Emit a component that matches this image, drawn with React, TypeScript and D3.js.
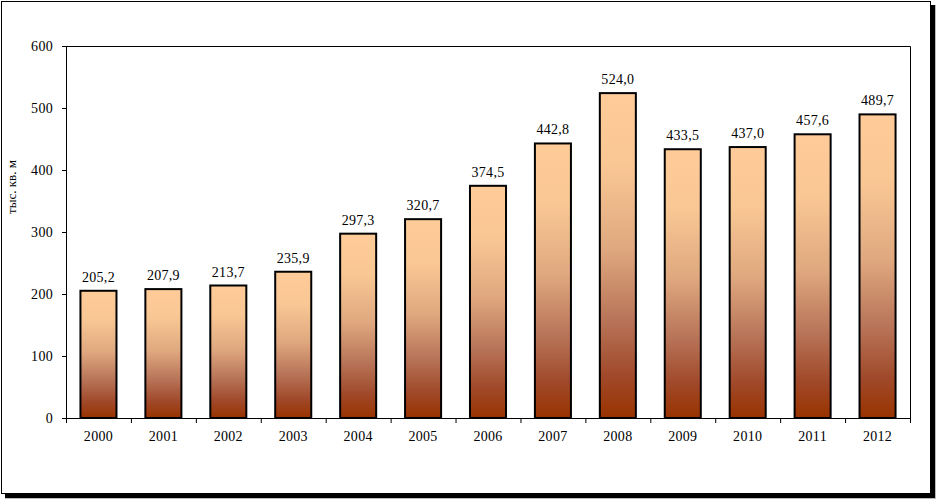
import * as d3 from "d3";
import React from "react";

const years = ["2000", "2001", "2002", "2003", "2004", "2005", "2006", "2007", "2008", "2009", "2010", "2011", "2012"];
const values = [205.2, 207.9, 213.7, 235.9, 297.3, 320.7, 374.5, 442.8, 524.0, 433.5, 437.0, 457.6, 489.7];
const yTicks = [0, 100, 200, 300, 400, 500, 600];
const yLabel = "тыс. кв. м";

const W = 936;
const H = 499;
const margin = { top: 46, right: 26, bottom: 81, left: 66 };
const font = "Liberation Serif, Times New Roman, serif";

const fmt = (v: number) => v.toFixed(1).replace(".", ",");

export default function App() {
  const x = d3
    .scaleBand()
    .domain(years)
    .range([margin.left, W - margin.right])
    .paddingInner(0.445)
    .paddingOuter(0.2225);
  const y = d3
    .scaleLinear()
    .domain([0, 600])
    .range([H - margin.bottom, margin.top]);

  const x0 = margin.left;
  const x1 = W - margin.right;
  const y0 = y(0);
  const yTop = y(600);
  const step = x.step();

  return (
    <svg width={W} height={H} style={{ position: "absolute", left: 0, top: 0 }}>
      <defs>
        <linearGradient id="barFill" x1="0" y1="0" x2="0" y2="1">
          <stop offset="0" stopColor="#ffcc99" />
          <stop offset="0.22" stopColor="#f9c794" />
          <stop offset="0.48" stopColor="#dfa87f" />
          <stop offset="0.7" stopColor="#b87458" />
          <stop offset="0.87" stopColor="#a0492a" />
          <stop offset="1" stopColor="#993300" />
        </linearGradient>
      </defs>

      {/* frame with shadow */}
      <rect x={5} y={5} width={931} height={494} fill="#bbb" />
      <rect x={5} y={5} width={930} height={493} fill="#000" />
      <rect x={1.5} y={1.5} width={929} height={492} fill="#fff" stroke="#000" strokeWidth={1} />

      {/* plot area top/right border */}
      <path d={`M${x0},${yTop + 0.5}H${x1 + 0.5}V${y0}`} fill="none" stroke="#000" strokeWidth={1} />

      {/* bars */}
      {years.map((yr, i) => (
        <g key={yr}>
          <rect
            x={x(yr)!}
            y={y(values[i])}
            width={x.bandwidth()}
            height={y0 - y(values[i])}
            fill="url(#barFill)"
            stroke="#000"
            strokeWidth={2}
          />
          <text
            x={x(yr)! + x.bandwidth() / 2}
            y={y(values[i]) - 9}
            textAnchor="middle"
            fontFamily={font}
            fontSize={14}
            letterSpacing={0.3}
            fill="#000"
          >
            {fmt(values[i])}
          </text>
          <text
            x={x(yr)! + x.bandwidth() / 2}
            y={y0 + 23}
            textAnchor="middle"
            fontFamily={font}
            fontSize={14}
            letterSpacing={0.3}
            fill="#000"
          >
            {yr}
          </text>
        </g>
      ))}

      {/* y axis */}
      <line x1={x0 + 0.5} x2={x0 + 0.5} y1={yTop} y2={y0} stroke="#000" />
      {yTicks.map((t) => (
        <g key={t}>
          <line x1={x0 - 4} x2={x0} y1={y(t) + 0.5} y2={y(t) + 0.5} stroke="#000" />
          <text
            x={x0 - 13}
            y={y(t) + 5}
            textAnchor="end"
            fontFamily={font}
            fontSize={14}
            letterSpacing={0.3}
            fill="#000"
          >
            {t}
          </text>
        </g>
      ))}

      {/* x axis */}
      <line x1={x0} x2={x1 + 0.5} y1={y0 + 0.5} y2={y0 + 0.5} stroke="#000" />
      {d3.range(years.length + 1).map((i) => (
        <line
          key={i}
          x1={x0 + i * step + 0.5}
          x2={x0 + i * step + 0.5}
          y1={y0}
          y2={y0 + 5}
          stroke="#000"
        />
      ))}

      <text
        transform={`translate(16,${(yTop + y0) / 2 - 45}) rotate(-90)`}
        textAnchor="middle"
        fontFamily={font}
        fontSize={13}
        fill="#000"
      >
        {yLabel}
      </text>
    </svg>
  );
}
